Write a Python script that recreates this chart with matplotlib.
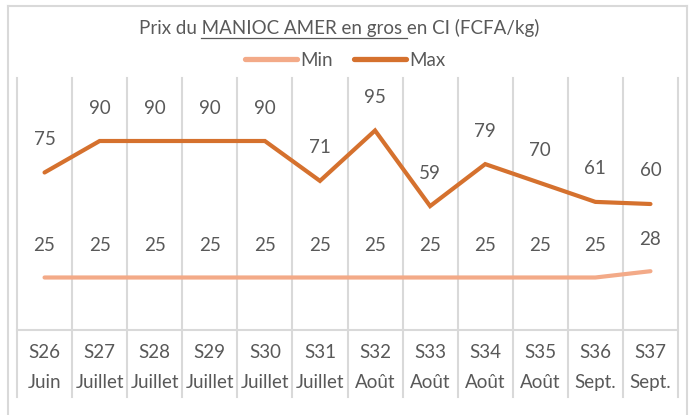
import matplotlib
matplotlib.use("Agg")
import matplotlib.pyplot as plt
from matplotlib.lines import Line2D
import matplotlib.transforms as mtransforms

weeks = ["S26", "S27", "S28", "S29", "S30", "S31", "S32", "S33", "S34", "S35", "S36", "S37"]
months = ["Juin", "Juillet", "Juillet", "Juillet", "Juillet", "Juillet", "Août", "Août", "Août", "Août", "Sept.", "Sept."]
min_vals = [25, 25, 25, 25, 25, 25, 25, 25, 25, 25, 25, 28]
max_vals = [75, 90, 90, 90, 90, 71, 95, 59, 79, 70, 61, 60]

plt.rcParams['font.family'] = ['Lato', 'DejaVu Sans']
TXT = '#595959'
GRID = '#D9D9D9'
C_MIN = '#F3AA88'
C_MAX = '#D5712E'
FS = 13.5

W, H = 693, 415
fig = plt.figure(figsize=(W / 100, H / 100), dpi=100)
fig.patch.set_facecolor('white')

def fx(px):
    return px / W

def fy(py):
    return 1 - py / H

left, right, top, bottom = 17, 678, 78, 330
ax = fig.add_axes([fx(left), fy(bottom), fx(right - left), (bottom - top) / H])
ax.set_xlim(-0.5, len(weeks) - 0.5)
ax.set_ylim(0, 120)
for s in ['top', 'right', 'left']:
    ax.spines[s].set_visible(False)
ax.spines['bottom'].set_color(GRID)
ax.spines['bottom'].set_linewidth(1.5)
ax.set_xticks([])
ax.set_yticks([])

x = list(range(len(weeks)))
ax.plot(x, min_vals, color=C_MIN, lw=3.0, solid_capstyle='round', solid_joinstyle='miter', label='Min', zorder=3)
ax.plot(x, max_vals, color=C_MAX, lw=3.0, solid_capstyle='round', solid_joinstyle='miter', label='Max', zorder=3)

for xi, v in zip(x, min_vals):
    ax.annotate(str(v), (xi, v), xytext=(0, 32), textcoords='offset pixels',
                ha='center', va='center', fontsize=FS, color=TXT)
for xi, v in zip(x, max_vals):
    ax.annotate(str(v), (xi, v), xytext=(0, 33), textcoords='offset pixels',
                ha='center', va='center', fontsize=FS, color=TXT)

# vertical category separators extending through the label table
trans = mtransforms.blended_transform_factory(ax.transData, ax.transAxes)
ybot = -(397 - bottom) / (bottom - top)
for b in range(len(weeks) + 1):
    ax.add_line(Line2D([b - 0.5, b - 0.5], [ybot, 1], transform=trans, color=GRID,
                       lw=1.5, clip_on=False, zorder=1))

yw = -(352 - bottom) / (bottom - top)
ym = -(382 - bottom) / (bottom - top)
for xi, w, m in zip(x, weeks, months):
    ax.text(xi, yw, w, transform=trans, ha='center', va='center', fontsize=FS, color=TXT)
    ax.text(xi, ym, m, transform=trans, ha='center', va='center', fontsize=FS, color=TXT)

# legend
leg = fig.legend(loc='center', bbox_to_anchor=(fx(345), fy(60)), ncol=2, frameon=False,
                 fontsize=FS, handlelength=2.8, handletextpad=0.15, columnspacing=1.1,
                 labelcolor=TXT)
for h in leg.get_lines():
    h.set_linewidth(3.8)
    h.set_solid_capstyle('round')

# title with underlined part
title = "Prix du MANIOC AMER en gros en CI (FCFA/kg)"
tx, ty = fx(339), fy(28)
t = fig.text(tx, ty, title, ha='center', va='center', fontsize=FS, color=TXT)
fig.canvas.draw()
r = fig.canvas.get_renderer()

def width(s):
    tt = fig.text(0, 0, s, fontsize=FS)
    w = tt.get_window_extent(renderer=r).width
    tt.remove()
    return w

bb = t.get_window_extent(renderer=r)
x_start = bb.x0 + width("Prix du M") - width("M")
x_end = bb.x0 + width("Prix du MANIOC AMER en gros e") - width("e")
uy = bb.y0 - 1
fig.add_artist(Line2D([x_start / W, x_end / W], [uy / H, uy / H], transform=fig.transFigure,
                      color=TXT, lw=0.9))

# outer chart border
for xs, ys in [([8, 687], [6, 6]), ([8, 8], [6, 415]), ([687, 687], [6, 415])]:
    fig.add_artist(Line2D([fx(v) for v in xs], [fy(v) for v in ys], transform=fig.transFigure,
                          color=GRID, lw=1.5))

fig.savefig('out.png', dpi=100, facecolor='white')
